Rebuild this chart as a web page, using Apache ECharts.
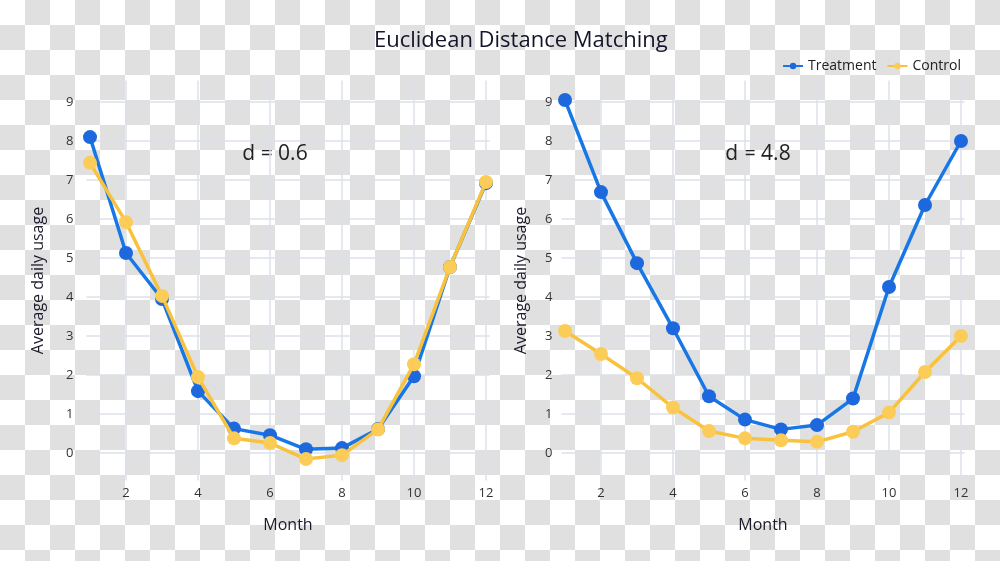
<!DOCTYPE html>
<html>
<head>
<meta charset="utf-8">
<script src="https://cdn.jsdelivr.net/npm/echarts@6/dist/echarts.min.js"></script>
<style>
html,body{margin:0;padding:0;}
body{
  width:1000px;height:561px;overflow:hidden;
  background-color:#ffffff;
  background-image:conic-gradient(#e0e0e0 25%, #ffffff 0 50%, #e0e0e0 0 75%, #ffffff 0);
  background-size:50px 50px;
}
#chart{width:1000px;height:561px;}
</style>
</head>
<body>
<div id="chart"></div>
<script>
const months = [1,2,3,4,5,6,7,8,9,10,11,12];
const leftTreatment  = [8.10, 5.13, 3.95, 1.59, 0.63, 0.46, 0.10, 0.13, 0.62, 1.97, 4.77, 6.92];
const leftControl    = [7.44, 5.92, 4.03, 1.95, 0.38, 0.26, -0.15, -0.05, 0.61, 2.28, 4.77, 6.95];
const rightTreatment = [9.05, 6.69, 4.87, 3.20, 1.46, 0.86, 0.61, 0.72, 1.40, 4.26, 6.36, 8.00];
const rightControl   = [3.13, 2.54, 1.92, 1.17, 0.57, 0.38, 0.33, 0.29, 0.55, 1.04, 2.08, 3.00];
const xTicks = [2,4,6,8,10,12];
const yTicks = [0,1,2,3,4,5,6,7,8,9];
const leftLabel = 'd = 0.6';
const rightLabel = 'd = 4.8';
const titleText = 'Euclidean Distance Matching';
const xName = 'Month';
const yName = 'Average daily usage';

const BLUE = '#1877e6';
const BLUE_M = '#1d68dd';
const YEL = '#f9c23c';
const YEL_M = '#fccc58';
const FONT = '"Open Sans", "Noto Sans", sans-serif';
const GRID = '#dde1ea';

function pair(a,b){ return a.map((v,i)=>[v,b[i]]); }

function xAxisFor(idx){
  return {
    type:'value', gridIndex:idx, min:0.9, max:12.1,
    name:xName, nameLocation:'middle', nameGap:37,
    nameTextStyle:{fontFamily:FONT, fontSize:16, color:'#1a1a2a'},
    axisLine:{show:false},
    axisTick:{show:false, customValues:xTicks},
    axisLabel:{customValues:xTicks, fontFamily:FONT, fontSize:13, color:'#333', margin:6},
    splitLine:{show:true, lineStyle:{color:GRID, width:1.5}}
  };
}
function yAxisFor(idx, margin, gap){
  return {
    type:'value', gridIndex:idx, min:-0.7, max:9.55,
    name:yName, nameLocation:'middle', nameGap:gap,
    nameTextStyle:{fontFamily:FONT, fontSize:16, color:'#1a1a2a'},
    axisLine:{show:false},
    axisTick:{show:false, customValues:yTicks},
    axisLabel:{customValues:yTicks, fontFamily:FONT, fontSize:13, color:'#333', margin:margin},
    splitLine:{show:true, lineStyle:{color:GRID, width:1.5}}
  };
}
function seriesFor(name, idx, data, lc, mc){
  return {
    name:name, type:'line', xAxisIndex:idx, yAxisIndex:idx,
    data:pair(months, data),
    symbol:'circle', symbolSize:14,
    lineStyle:{color:lc, width:3.5},
    itemStyle:{color:mc},
    emphasis:{disabled:true},
    z: name==='Control'?3:2
  };
}

const chart = echarts.init(document.getElementById('chart'), null, {renderer:'canvas'});
chart.setOption({
  backgroundColor:'transparent',
  animation:false,
  title:{
    text:titleText, left:369, top:25,
    textStyle:{fontFamily:FONT, fontSize:22, fontWeight:'normal', color:'#14142a'}
  },
  legend:{
    data:['Treatment','Control'],
    right:34, top:54, itemWidth:20, itemHeight:8, itemGap:10,
    textStyle:{fontFamily:FONT, fontSize:14, color:'#222'}
  },
  grid:[
    {left:86.4, top:80.5, width:403.2, height:400},
    {left:561.4, top:80.5, width:403.2, height:400}
  ],
  xAxis:[xAxisFor(0), xAxisFor(1)],
  yAxis:[yAxisFor(0, 13, 40), yAxisFor(1, 9, 32)],
  graphic:[
    {type:'text', x:275, y:154, style:{text:leftLabel, fontFamily:FONT, fontSize:21, fill:'#222', align:'center', verticalAlign:'middle'}},
    {type:'text', x:758, y:154, style:{text:rightLabel, fontFamily:FONT, fontSize:21, fill:'#222', align:'center', verticalAlign:'middle'}}
  ],
  series:[
    seriesFor('Treatment', 0, leftTreatment, BLUE, BLUE_M),
    seriesFor('Control', 0, leftControl, YEL, YEL_M),
    seriesFor('Treatment', 1, rightTreatment, BLUE, BLUE_M),
    seriesFor('Control', 1, rightControl, YEL, YEL_M)
  ]
});
</script>
</body>
</html>
